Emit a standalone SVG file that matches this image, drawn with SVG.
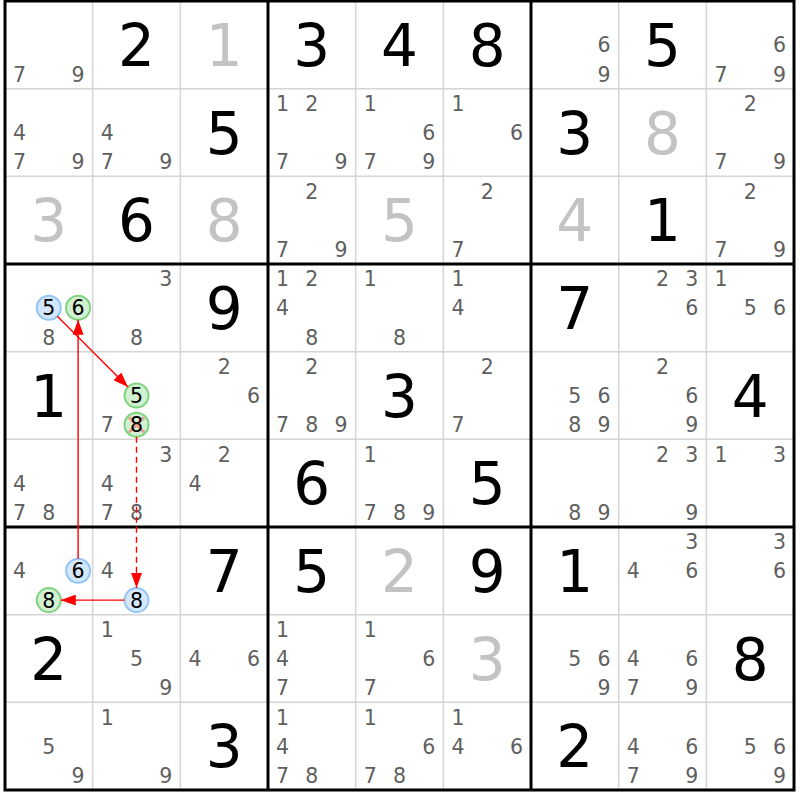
<svg xmlns="http://www.w3.org/2000/svg" width="800" height="800" viewBox="0 0 800 800">
<defs>
<style>
.thin{stroke:#d4d4d4;stroke-width:1.5;fill:none}
.thick{stroke:#000;stroke-width:3;fill:none}
.g{font-family:"DejaVu Sans",Verdana,sans-serif;font-size:58px;fill:#000;text-anchor:middle}
.u{font-family:"DejaVu Sans",Verdana,sans-serif;font-size:58px;fill:#c3c3c3;text-anchor:middle}
.c{font-family:"DejaVu Sans",Verdana,sans-serif;font-size:20.5px;fill:#5f5f5f;text-anchor:middle}
.k{font-family:"DejaVu Sans",Verdana,sans-serif;font-size:20.5px;fill:#000;text-anchor:middle}
.blue{fill:#d3e8ff;stroke:#93c4f2;stroke-width:2}
.green{fill:#d2f0d2;stroke:#7fd27f;stroke-width:2}
.x{stroke:#ff4040;stroke-opacity:0.45;stroke-width:3}
.link{stroke:#ff0000;stroke-width:1.4;fill:none}
</style>
<marker id="ah" markerUnits="userSpaceOnUse" markerWidth="15" markerHeight="11" refX="15" refY="5.5" orient="auto">
<path d="M0,0 L15,5.5 L0,11 z" fill="#ff0000"/>
</marker>
</defs>
<rect x="0" y="0" width="800" height="800" fill="#fff"/>
<g id="grid">
<path class="thin" d="M92.67,1V790M180.33,1V790M355.67,1V790M443.33,1V790M618.67,1V790M706.33,1V790M5,88.67H794M5,176.33H794M5,351.67H794M5,439.33H794M5,614.67H794M5,702.33H794"/>
<path class="thick" d="M268,1V790M531,1V790M5,264H794M5,527H794"/>
<rect class="thick" x="5" y="1" width="789" height="789"/>
</g>
<g id="givens">
<text class="g" x="136.5" y="65.8">2</text>
<text class="u" x="224.2" y="65.8">1</text>
<text class="g" x="311.8" y="65.8">3</text>
<text class="g" x="399.5" y="65.8">4</text>
<text class="g" x="487.2" y="65.8">8</text>
<text class="g" x="662.5" y="65.8">5</text>
<text class="g" x="224.2" y="153.5">5</text>
<text class="g" x="574.8" y="153.5">3</text>
<text class="u" x="662.5" y="153.5">8</text>
<text class="u" x="48.8" y="241.2">3</text>
<text class="g" x="136.5" y="241.2">6</text>
<text class="u" x="224.2" y="241.2">8</text>
<text class="u" x="399.5" y="241.2">5</text>
<text class="u" x="574.8" y="241.2">4</text>
<text class="g" x="662.5" y="241.2">1</text>
<text class="g" x="224.2" y="328.8">9</text>
<text class="g" x="574.8" y="328.8">7</text>
<text class="g" x="48.8" y="416.5">1</text>
<text class="g" x="399.5" y="416.5">3</text>
<text class="g" x="750.2" y="416.5">4</text>
<text class="g" x="311.8" y="504.2">6</text>
<text class="g" x="487.2" y="504.2">5</text>
<text class="g" x="224.2" y="591.8">7</text>
<text class="g" x="311.8" y="591.8">5</text>
<text class="u" x="399.5" y="591.8">2</text>
<text class="g" x="487.2" y="591.8">9</text>
<text class="g" x="574.8" y="591.8">1</text>
<text class="g" x="48.8" y="679.5">2</text>
<text class="u" x="487.2" y="679.5">3</text>
<text class="g" x="750.2" y="679.5">8</text>
<text class="g" x="224.2" y="767.2">3</text>
<text class="g" x="574.8" y="767.2">2</text>
</g>
<g id="highlights">
<circle class="blue" cx="48.8" cy="307.8" r="12"/>
<circle class="green" cx="78.1" cy="307.8" r="12"/>
<circle class="green" cx="136.5" cy="395.5" r="12"/>
<circle class="green" cx="136.5" cy="424.7" r="12"/>
<path class="x" d="M129,417.2L144,432.2M144,417.2L129,432.2"/>
<circle class="blue" cx="78.1" cy="570.8" r="12"/>
<circle class="green" cx="48.8" cy="600.1" r="12"/>
<circle class="blue" cx="136.5" cy="600.1" r="12"/>
</g>
<g id="candidates" transform="translate(0,0.5)">
<text class="c" x="19.6" y="81.1">7</text><text class="c" x="78.1" y="81.1">9</text>
<text class="c" x="604.1" y="51.8">6</text><text class="c" x="604.1" y="81.1">9</text>
<text class="c" x="779.4" y="51.8">6</text><text class="c" x="721" y="81.1">7</text><text class="c" x="779.4" y="81.1">9</text>

<text class="c" x="19.6" y="139.5">4</text><text class="c" x="19.6" y="168.7">7</text><text class="c" x="78.1" y="168.7">9</text>
<text class="c" x="107.3" y="139.5">4</text><text class="c" x="107.3" y="168.7">7</text><text class="c" x="165.7" y="168.7">9</text>
<text class="c" x="282.6" y="110.3">1</text><text class="c" x="311.8" y="110.3">2</text><text class="c" x="282.6" y="168.7">7</text><text class="c" x="341.1" y="168.7">9</text>
<text class="c" x="370.3" y="110.3">1</text><text class="c" x="428.7" y="139.5">6</text><text class="c" x="370.3" y="168.7">7</text><text class="c" x="428.7" y="168.7">9</text>
<text class="c" x="458" y="110.3">1</text><text class="c" x="516.4" y="139.5">6</text>
<text class="c" x="750.2" y="110.3">2</text><text class="c" x="721" y="168.7">7</text><text class="c" x="779.4" y="168.7">9</text>

<text class="c" x="311.8" y="198">2</text><text class="c" x="282.6" y="256.4">7</text><text class="c" x="341.1" y="256.4">9</text>
<text class="c" x="487.2" y="198">2</text><text class="c" x="458" y="256.4">7</text>
<text class="c" x="750.2" y="198">2</text><text class="c" x="721" y="256.4">7</text><text class="c" x="779.4" y="256.4">9</text>

<text class="k" x="48.8" y="314.8">5</text><text class="k" x="78.1" y="314.8">6</text><text class="c" x="48.8" y="344.1">8</text>
<text class="c" x="165.7" y="285.6">3</text><text class="c" x="136.5" y="344.1">8</text>
<text class="c" x="282.6" y="285.6">1</text><text class="c" x="311.8" y="285.6">2</text><text class="c" x="282.6" y="314.8">4</text><text class="c" x="311.8" y="344.1">8</text>
<text class="c" x="370.3" y="285.6">1</text><text class="c" x="399.5" y="344.1">8</text>
<text class="c" x="458" y="285.6">1</text><text class="c" x="458" y="314.8">4</text>
<text class="c" x="662.5" y="285.6">2</text><text class="c" x="691.7" y="285.6">3</text><text class="c" x="691.7" y="314.8">6</text>
<text class="c" x="721" y="285.6">1</text><text class="c" x="750.2" y="314.8">5</text><text class="c" x="779.4" y="314.8">6</text>

<text class="k" x="136.5" y="402.5">5</text><text class="c" x="107.3" y="431.7">7</text><text class="k" x="136.5" y="431.7">8</text>
<text class="c" x="224.2" y="373.3">2</text><text class="c" x="253.4" y="402.5">6</text>
<text class="c" x="311.8" y="373.3">2</text><text class="c" x="282.6" y="431.7">7</text><text class="c" x="311.8" y="431.7">8</text><text class="c" x="341.1" y="431.7">9</text>
<text class="c" x="487.2" y="373.3">2</text><text class="c" x="458" y="431.7">7</text>
<text class="c" x="574.8" y="402.5">5</text><text class="c" x="604.1" y="402.5">6</text><text class="c" x="574.8" y="431.7">8</text><text class="c" x="604.1" y="431.7">9</text>
<text class="c" x="662.5" y="373.3">2</text><text class="c" x="691.7" y="402.5">6</text><text class="c" x="691.7" y="431.7">9</text>

<text class="c" x="19.6" y="490.2">4</text><text class="c" x="19.6" y="519.4">7</text><text class="c" x="48.8" y="519.4">8</text>
<text class="c" x="165.7" y="461">3</text><text class="c" x="107.3" y="490.2">4</text><text class="c" x="107.3" y="519.4">7</text><text class="c" x="136.5" y="519.4">8</text>
<text class="c" x="224.2" y="461">2</text><text class="c" x="195" y="490.2">4</text>
<text class="c" x="370.3" y="461">1</text><text class="c" x="370.3" y="519.4">7</text><text class="c" x="399.5" y="519.4">8</text><text class="c" x="428.7" y="519.4">9</text>
<text class="c" x="574.8" y="519.4">8</text><text class="c" x="604.1" y="519.4">9</text>
<text class="c" x="662.5" y="461">2</text><text class="c" x="691.7" y="461">3</text><text class="c" x="691.7" y="519.4">9</text>
<text class="c" x="721" y="461">1</text><text class="c" x="779.4" y="461">3</text>

<text class="c" x="19.6" y="577.8">4</text><text class="k" x="78.1" y="577.8">6</text><text class="k" x="48.8" y="607.1">8</text>
<text class="c" x="107.3" y="577.8">4</text><text class="k" x="136.5" y="607.1">8</text>
<text class="c" x="691.7" y="548.6">3</text><text class="c" x="633.3" y="577.8">4</text><text class="c" x="691.7" y="577.8">6</text>
<text class="c" x="779.4" y="548.6">3</text><text class="c" x="779.4" y="577.8">6</text>

<text class="c" x="107.3" y="636.3">1</text><text class="c" x="136.5" y="665.5">5</text><text class="c" x="165.7" y="694.7">9</text>
<text class="c" x="195" y="665.5">4</text><text class="c" x="253.4" y="665.5">6</text>
<text class="c" x="282.6" y="636.3">1</text><text class="c" x="282.6" y="665.5">4</text><text class="c" x="282.6" y="694.7">7</text>
<text class="c" x="370.3" y="636.3">1</text><text class="c" x="428.7" y="665.5">6</text><text class="c" x="370.3" y="694.7">7</text>
<text class="c" x="574.8" y="665.5">5</text><text class="c" x="604.1" y="665.5">6</text><text class="c" x="604.1" y="694.7">9</text>
<text class="c" x="633.3" y="665.5">4</text><text class="c" x="691.7" y="665.5">6</text><text class="c" x="633.3" y="694.7">7</text><text class="c" x="691.7" y="694.7">9</text>

<text class="c" x="48.8" y="753.2">5</text><text class="c" x="78.1" y="782.4">9</text>
<text class="c" x="107.3" y="724">1</text><text class="c" x="165.7" y="782.4">9</text>
<text class="c" x="282.6" y="724">1</text><text class="c" x="282.6" y="753.2">4</text><text class="c" x="282.6" y="782.4">7</text><text class="c" x="311.8" y="782.4">8</text>
<text class="c" x="370.3" y="724">1</text><text class="c" x="428.7" y="753.2">6</text><text class="c" x="370.3" y="782.4">7</text><text class="c" x="399.5" y="782.4">8</text>
<text class="c" x="458" y="724">1</text><text class="c" x="458" y="753.2">4</text><text class="c" x="516.4" y="753.2">6</text>
<text class="c" x="633.3" y="753.2">4</text><text class="c" x="691.7" y="753.2">6</text><text class="c" x="633.3" y="782.4">7</text><text class="c" x="691.7" y="782.4">9</text>
<text class="c" x="750.2" y="753.2">5</text><text class="c" x="779.4" y="753.2">6</text><text class="c" x="779.4" y="782.4">9</text>
</g>
<g id="connectors">
<line class="link" x1="57.3" y1="316.3" x2="128" y2="387" marker-end="url(#ah)"/>
<line class="link" x1="78.1" y1="558.8" x2="78.1" y2="319.8" marker-end="url(#ah)"/>
<line class="link" x1="136.5" y1="436.7" x2="136.5" y2="588" stroke-dasharray="6,4" marker-end="url(#ah)"/>
<line class="link" x1="124.5" y1="600.1" x2="60.8" y2="600.1" marker-end="url(#ah)"/>
</g>
</svg>
